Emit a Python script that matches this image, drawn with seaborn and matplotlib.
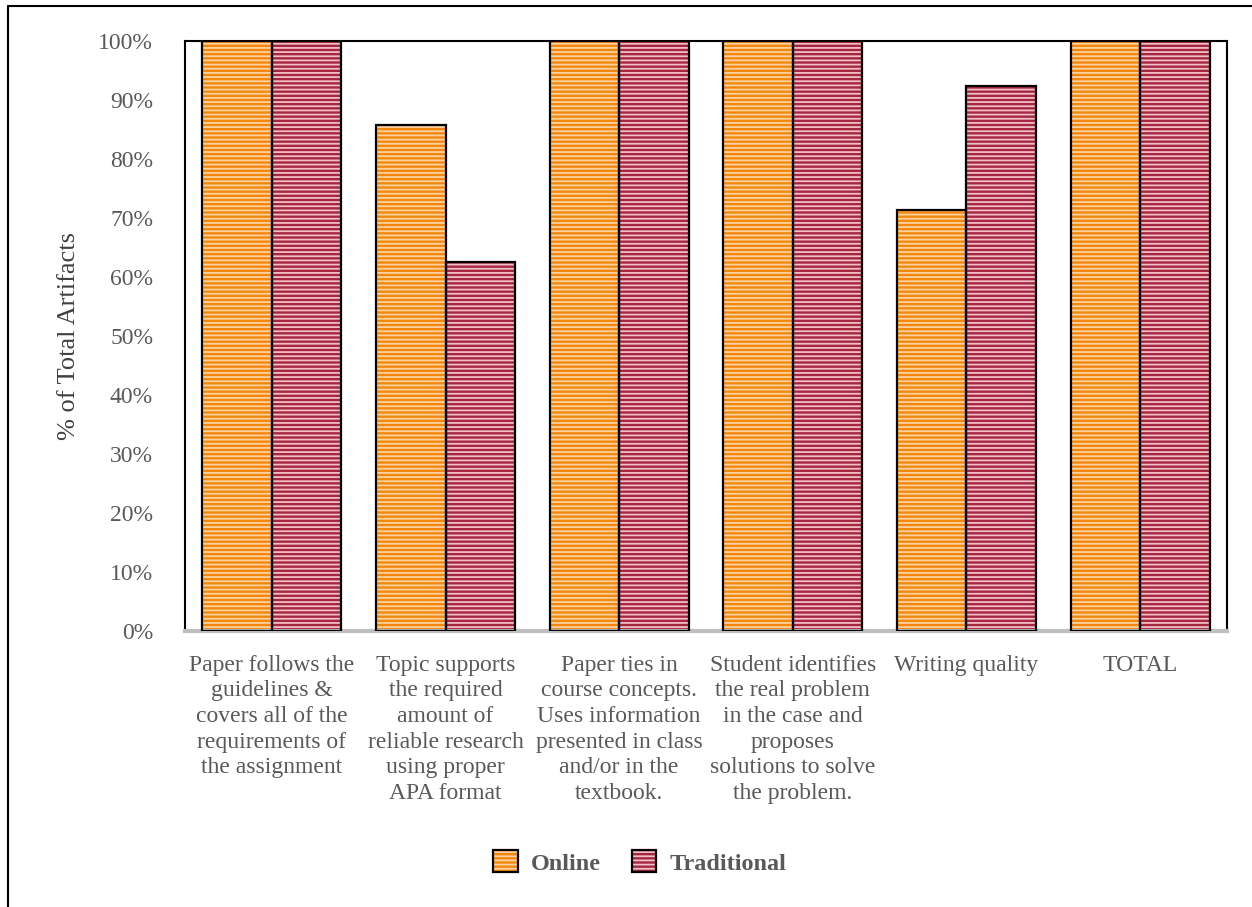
import matplotlib
matplotlib.use("Agg")
import matplotlib.pyplot as plt
from matplotlib.patches import Rectangle, Patch
from matplotlib.lines import Line2D
from matplotlib.legend_handler import HandlerTuple
import seaborn as sns
import pandas as pd

criteria = [
    "Paper follows the\nguidelines &\ncovers all of the\nrequirements of\nthe assignment",
    "Topic supports\nthe required\namount of\nreliable research\nusing proper\nAPA format",
    "Paper ties in\ncourse concepts.\nUses information\npresented in class\nand/or in the\ntextbook.",
    "Student identifies\nthe real problem\nin the case and\nproposes\nsolutions to solve\nthe problem.",
    "Writing quality",
    "TOTAL",
]
groups = ["Online", "Traditional"]
online = [100.0, 85.7, 100.0, 100.0, 71.4, 100.0]
traditional = [100.0, 62.5, 100.0, 100.0, 92.3, 100.0]
yticks = [0, 10, 20, 30, 40, 50, 60, 70, 80, 90, 100]

df = pd.DataFrame({
    "criterion": criteria * 2,
    "group": [groups[0]] * len(criteria) + [groups[1]] * len(criteria),
    "value": online + traditional,
})

base = {"Online": "#F3870C", "Traditional": "#A5263F"}
stripe = {"Online": "#FBD3A1", "Traditional": "#F2BEC8"}

sns.set_theme(style="white")
plt.rcParams["font.family"] = ["Liberation Serif", "DejaVu Serif"]
plt.rcParams["hatch.linewidth"] = 1.3

fig = plt.figure(figsize=(12.52, 9.07), dpi=100)
ax = fig.add_axes([0.1478, 0.3043, 0.8322, 0.6505])

sns.barplot(data=df, x="criterion", y="value", hue="group", order=criteria,
            hue_order=groups, palette=base, width=0.8, saturation=1,
            legend=False, ax=ax)

# horizontal stripe fill, with a separate black outline on top of each bar
n = len(criteria)
for i, bar in enumerate(list(ax.patches)):
    g = groups[i // n]
    bar.set_hatch("----")
    bar.set_edgecolor(stripe[g])
    bar.set_linewidth(0)
    ax.add_patch(Rectangle((bar.get_x(), bar.get_y()), bar.get_width(),
                           bar.get_height(), fill=False, edgecolor="black",
                           linewidth=1.6, zorder=3))

ax.set_ylim(0, 100)
ax.set_xlim(-0.5, n - 0.5)
ax.set_yticks(yticks)
ax.set_yticklabels([f"{t}%" for t in yticks])
ax.tick_params(axis="y", length=0, pad=23, labelsize=17, labelcolor="#595959")
ax.tick_params(axis="x", length=0, pad=17, labelsize=17, labelcolor="#595959")
for lab in ax.get_xticklabels():
    lab.set_verticalalignment("top")
    lab.set_linespacing(1.29)
ax.set_xlabel("")
ax.set_ylabel("% of Total Artifacts", fontsize=19, color="#404040")
ax.yaxis.set_label_coords(-0.101, 0.5)

for side in ["left", "top", "right"]:
    ax.spines[side].set_visible(True)
    ax.spines[side].set_color("black")
    ax.spines[side].set_linewidth(1.5)
ax.spines["bottom"].set_color("#BFBFBF")
ax.spines["bottom"].set_linewidth(3)

handles = []
for g in groups:
    filled = Patch(facecolor=base[g], edgecolor=stripe[g], hatch="----", linewidth=0)
    outline = Patch(facecolor="none", edgecolor="black", linewidth=1.6)
    handles.append((filled, outline))
leg = fig.legend(handles, groups, handler_map={tuple: HandlerTuple(ndivide=1, pad=0)},
                 loc="center", bbox_to_anchor=(0.511, 0.049), ncol=2, frameon=False,
                 prop={"weight": "bold", "size": 17.5}, handlelength=1.0,
                 handleheight=1.0, columnspacing=1.25, handletextpad=0.55)
for t in leg.get_texts():
    t.set_color("#595959")

# outer frame along the top and left edges
fig.add_artist(Line2D([0.0064, 1.0], [0.9934, 0.9934], color="black", lw=1.5,
                      transform=fig.transFigure))
fig.add_artist(Line2D([0.0064, 0.0064], [0.0, 0.9934], color="black", lw=1.5,
                      transform=fig.transFigure))

fig.savefig("out.png", dpi=100)
